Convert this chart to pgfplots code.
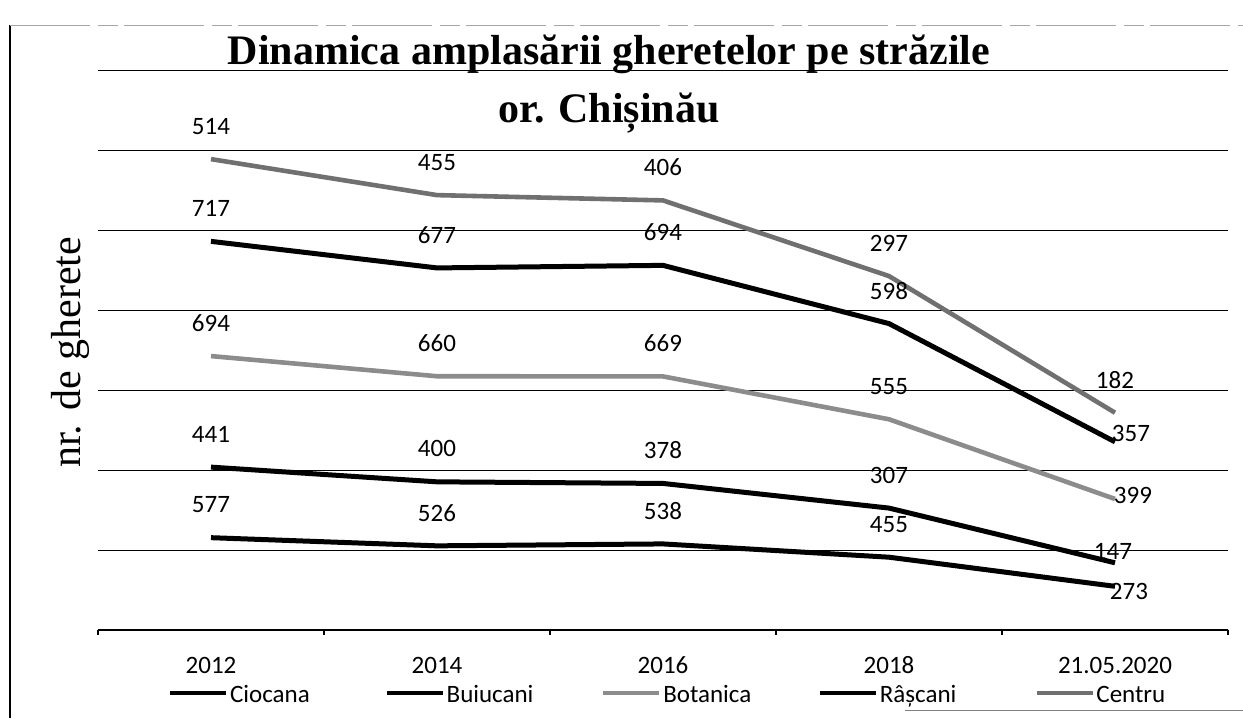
\documentclass[border=0pt]{standalone}
\usepackage{pgfplots}
\pgfplotsset{compat=1.18}
\usepackage{pgfplotstable}
\usepackage{fontspec}
\setmainfont{Carlito}
\newfontfamily\tnr{Liberation Serif}
\definecolor{cgray}{HTML}{707070}
\definecolor{bgray}{HTML}{8C8C8C}

\pgfplotstableread{
x v dx dy
0 577 0 16.5
1 526 0 16.5
2 538 0 16.5
3 455 0 16.5
4 273 7 -2.5
}\ciocana
\pgfplotstableread{
x v dx dy
0 441 0 16.5
1 400 0 16.5
2 378 0 16.5
3 307 0 16.5
4 147 -1 5.5
}\buiucani
\pgfplotstableread{
x v dx dy
0 694 0 16.5
1 660 0 16.5
2 669 0 16.5
3 555 0 16.5
4 399 9 1.5
}\botanica
\pgfplotstableread{
x v dx dy
0 717 0 16.5
1 677 0 16.5
2 694 0 16.5
3 598 0 16.5
4 357 8 4
}\rascani
\pgfplotstableread{
x v dx dy
0 514 0 16.5
1 455 0 16.5
2 406 0 16.5
3 297 0 16.5
4 182 0 16.5
}\centru

\begin{document}
\begin{tikzpicture}
\path[use as bounding box] (-49pt,-44pt) rectangle (572.5pt,315pt);
% frame of the scanned chart
\draw[black, line width=0.6pt] (-44pt,-44pt) -- (-44pt,302.5pt);
\draw[gray!70, line width=0.3pt, dash pattern=on 40pt off 4pt on 10pt off 3pt] (-44pt,302.5pt) -- (572.5pt,302.5pt);
\draw[gray, line width=0.4pt] (403.5pt,-40pt) -- (572.5pt,-40pt);
\begin{axis}[
  scale only axis, width=565pt, height=280pt,
  xmin=-0.5, xmax=4.5, ymin=0, ymax=3500,
  stack plots=y,
  clip=false,
  axis line style={draw=none},
  tick pos=left,
  tick align=outside,
  xtick={0,1,2,3,4},
  xticklabels={2012,2014,2016,2018,21.05.2020},
  minor xtick={-0.5,0.5,1.5,2.5,3.5,4.5},
  major tick length=0pt,
  minor tick length=2.5pt,
  minor tick style={black, line width=0.6pt},
  ytick={500,1000,1500,2000,2500,3000,3500},
  yticklabels={},
  ymajorgrids,
  major grid style={black, line width=0.5pt},
  xticklabel style={anchor=base, yshift=-21.5pt, font=\fontsize{12.5}{15}\selectfont},
  point meta=explicit symbolic,
  nodes near coords,
  visualization depends on={\thisrow{dx}\as\mydx},
  visualization depends on={\thisrow{dy}\as\mydy},
  nodes near coords style={anchor=center, xshift=\mydx pt, yshift=\mydy pt, text=black, font=\fontsize{12.5}{15}\selectfont, inner sep=0pt},
  legend columns=5,
  legend style={at={(axis description cs:0.062,-0.1125)}, anchor=west, draw=none, fill=none, inner sep=0pt,
    font=\fontsize{12.5}{15}\selectfont,
    nodes={inner xsep=1pt},
    /tikz/every even column/.append style={column sep=26.5pt}},
  legend image code/.code={\draw[#1, line width=1.8pt] (0pt,0pt) -- (28pt,0pt);},
  ylabel={nr. de gherete},
  ylabel style={at={(axis description cs:-0.0248,0.496)}, anchor=center, font=\tnr\fontsize{21}{25}\selectfont},
]
\addplot[black, line width=2.5pt, line join=round] table[x=x, y=v, meta=v] {\ciocana};
\addplot[black, line width=2.5pt, line join=round] table[x=x, y=v, meta=v] {\buiucani};
\addplot[bgray, line width=2.3pt, line join=round] table[x=x, y=v, meta=v] {\botanica};
\addplot[black, line width=2.5pt, line join=round] table[x=x, y=v, meta=v] {\rascani};
\addplot[cgray, line width=2.3pt, line join=round] table[x=x, y=v, meta=v] {\centru};
\legend{\makebox[50pt][l]{\strut Ciocana},\makebox[50pt][l]{\strut Buiucani},\makebox[50pt][l]{\strut Botanica},\makebox[50pt][l]{\strut Râșcani},\makebox[50pt][l]{\strut Centru}}
\end{axis}
\draw[black, line width=0.6pt] (0pt,0pt) -- (565pt,0pt);
\node[anchor=base, font=\tnr\bfseries\fontsize{21}{25}\selectfont] at (255.5pt,282.5pt) {Dinamica amplasării gheretelor pe străzile};
\node[anchor=base, font=\tnr\bfseries\fontsize{21}{25}\selectfont] at (255.5pt,253.5pt) {or. Chișinău};
\end{tikzpicture}
\end{document}
